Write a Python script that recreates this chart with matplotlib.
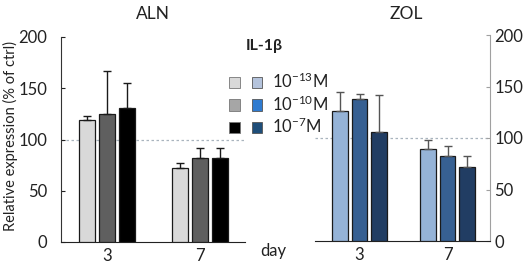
import matplotlib
matplotlib.use("Agg")
import matplotlib.pyplot as plt
import numpy as np
from matplotlib.patches import Patch
from matplotlib.legend_handler import HandlerTuple

plt.rcParams['font.family'] = ['Lato', 'DejaVu Sans']
plt.rcParams['mathtext.default'] = 'regular'

days = ['3', '7']
conc_labels = ['10$^{-13}$M', '10$^{-10}$M', '10$^{-7}$M']

aln_mean = [[119, 72], [125, 82], [131, 82]]
aln_err = [[4, 5], [42, 10], [24, 10]]
zol_mean = [[126, 89.5], [138, 82.5], [106, 72]]
zol_err = [[19, 9], [5, 9.5], [35.5, 11]]

aln_colors = ['#d9d9d9', '#5f5f5f', '#000000']
zol_colors = ['#95b3d7', '#376092', '#213d63']
leg_gray = ['#d9d9d9', '#a6a6a6', '#000000']
leg_blue = ['#b4c3dc', '#2f7bd0', '#1f4e79']

FS = 12

fig = plt.figure(figsize=(5.32, 2.70), dpi=100)
axL = fig.add_axes([61/532, 28/270, 184/532, 205/270])
axR = fig.add_axes([315/532, 29/270, 175/532, 206/270])

x = np.arange(len(days))

def draw(ax, means, errs, colors, ecolor, step, width, xlim):
    for i, (m, e, c) in enumerate(zip(means, errs, colors)):
        ax.bar(x + (i - 1) * step, m, width, color=c, edgecolor='#1a1a1a', linewidth=0.9,
               yerr=[np.zeros(len(e)), e], capsize=3,
               error_kw=dict(ecolor=ecolor, elinewidth=1.0, capthick=1.0), zorder=3)
    ax.axhline(100, color='#a9b4be', linestyle=(0, (2, 2)), linewidth=0.9, zorder=1)
    ax.set_ylim(0, 200)
    ax.set_xlim(*xlim)
    ax.set_xticks(x)
    ax.set_xticklabels(days)
    ax.set_yticks([0, 50, 100, 150, 200])
    ax.tick_params(axis='x', length=0, pad=4, labelsize=FS, colors='#222222')
    ax.spines['top'].set_visible(False)
    ax.spines['bottom'].set_color('#222222')

draw(axL, aln_mean, aln_err, aln_colors, '#1a1a1a', 0.215, 0.175, (-0.495, 1.484))
draw(axR, zol_mean, zol_err, zol_colors, '#555555', 0.222, 0.176, (-0.506, 1.483))

axL.spines['right'].set_visible(False)
axL.spines['left'].set_color('#333333')
axL.tick_params(axis='y', direction='in', length=3, pad=10, labelsize=FS, colors='#222222')

axR.spines['left'].set_visible(False)
axR.spines['right'].set_color('#a0a0a0')
axR.yaxis.tick_right()
axR.tick_params(axis='y', direction='in', length=3, pad=3, labelsize=FS, colors='#222222')
axR.tick_params(axis='y', color='#a0a0a0', labelcolor='#222222')

fig.text(10/532, 1 - 136/270, 'Relative expression (% of ctrl)', rotation=90,
         ha='center', va='center', fontsize=10.5, color='#222222')
fig.text(153/532, 1 - 14/270, 'ALN', ha='center', va='center', fontsize=12.5, color='#222222')
fig.text(406/532, 1 - 14/270, 'ZOL', ha='center', va='center', fontsize=12.5, color='#222222')
fig.text(264/532, 1 - 46/270, 'IL-1β', ha='center', va='center', fontsize=11.5,
         fontweight='bold', color='#222222')
fig.text(273/532, 1 - 251/270, 'day', ha='center', va='center', fontsize=FS, color='#222222')

handles = [(Patch(facecolor=g, edgecolor='#777777', linewidth=0.6),
            Patch(facecolor=b, edgecolor='#555555', linewidth=0.6))
           for g, b in zip(leg_gray, leg_blue)]
fig.legend(handles, conc_labels, handler_map={tuple: HandlerTuple(ndivide=None, pad=0.7)},
           loc='upper left', bbox_to_anchor=(229/532, 1 - 72/270), frameon=False,
           fontsize=FS, handlelength=2.0, handleheight=0.7, handletextpad=0.55,
           labelspacing=0.18, borderpad=0, borderaxespad=0, labelcolor='#222222')

fig.savefig('out.png', dpi=100)
